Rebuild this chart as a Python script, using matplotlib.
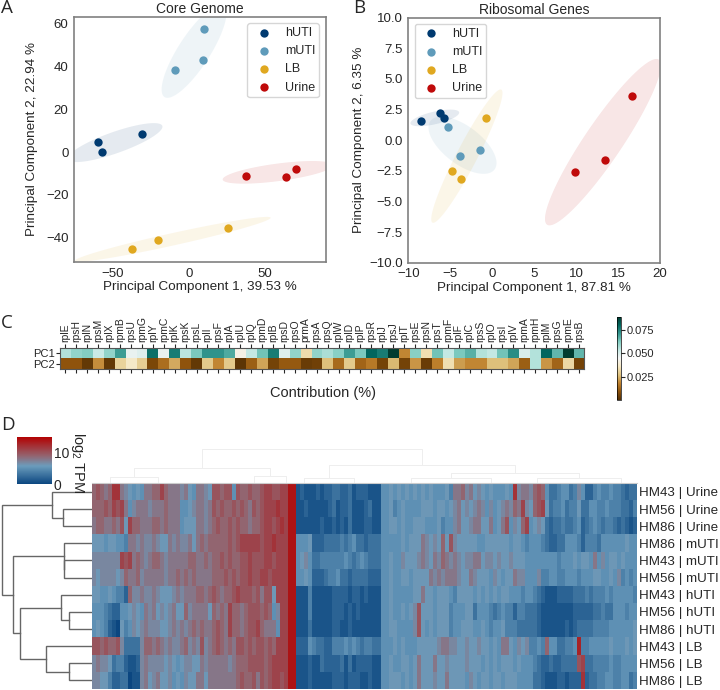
import matplotlib
matplotlib.use("Agg")
import matplotlib.pyplot as plt
from matplotlib.colors import LinearSegmentedColormap
from matplotlib.cm import ScalarMappable
from matplotlib.colors import Normalize
import numpy as np

plt.rcParams['font.family'] = ['Liberation Sans', 'DejaVu Sans']
plt.rcParams['mathtext.fontset'] = 'custom'
plt.rcParams['mathtext.rm'] = 'Liberation Sans'
plt.rcParams['text.color'] = '#262626'
plt.rcParams['xtick.color'] = '#262626'
plt.rcParams['ytick.color'] = '#262626'
plt.rcParams['axes.labelcolor'] = '#262626'

W, H = 720, 690

#pca points
groups = ['hUTI', 'mUTI', 'LB', 'Urine']
colors = ['#003a70', '#5f9bba', '#e0a820', '#bf0a0a']

core_x = [[-59.4, -57.0, -30.6], [10.0, 9.4, -9.0], [-36.9, -20.1, 25.5], [37.8, 63.8, 70.1]]
core_y = [[4.7, -0.2, 8.4], [57.7, 43.0, 38.5], [-45.5, -41.3, -35.5], [-11.1, -11.8, -7.8]]

ribo_x = [[-8.5, -6.2, -5.8], [-5.3, -3.8, -1.47], [-4.77, -3.74, -0.68], [9.83, 13.5, 16.65]]
ribo_y = [[1.55, 2.2, 1.8], [1.06, -1.33, -0.79], [-2.5, -3.2, 1.82], [-2.58, -1.6, 3.64]]

#ellipses: centre and two semi axes, data units
core_centre = [(-48.3, 4.4), (3.5, 47.1), (-10.5, -40.8), (58.5, -9.5)]
core_major = [(31.0, 7.8), (19.4, 21.4), (64.2, 10.1), (36.2, 3.4)]
core_minor = [(2.3, -4.7), (8.7, -4.05), (0.9, -2.8), (0.8, -4.05)]

ribo_centre = [(-6.84, 1.82), (-3.54, -0.41), (-3.02, -1.3), (13.2, -0.16)]
ribo_major = [(2.9, 0.46), (3.82, -1.98), (4.1, 5.43), (6.65, 6.74)]
ribo_minor = [(0.175, -0.5), (1.36, 1.24), (1.1, -0.38), (1.87, -0.84)]

#contribution
genes = ['rplE', 'rpsH', 'rplN', 'rpsM', 'rplX', 'rpmB', 'rpsU', 'rpmG', 'rplY', 'rpmC', 'rplK', 'rpsK',
         'rpsL', 'rplI', 'rpsF', 'rplA', 'rplU', 'rplQ', 'rpmD', 'rplB', 'rpsD', 'rpsO', 'prmA', 'rpsA',
         'rpsQ', 'rplW', 'rplD', 'rplP', 'rpsR', 'rplJ', 'rpsJ', 'rplT', 'rpsE', 'rpsN', 'rpsT', 'rpmF',
         'rplF', 'rplC', 'rpsS', 'rplO', 'rpsI', 'rplV', 'rpmA', 'rpmH', 'rplM', 'rpsG', 'rpmE', 'rpsB']
pc1 = [.056, .060, .062, .053, .060, .070, .047, .049, .078, .047, .076, .055,
       .063, .072, .072, .068, .042, .054, .064, .076, .049, .060, .033, .060,
       .057, .061, .070, .063, .080, .076, .089, .019, .061, .034, .064, .054,
       .063, .067, .056, .054, .064, .073, .050, .056, .080, .066, .089, .066]
pc2 = [.010, .010, .003, .020, .003, .031, .037, .030, .007, .015, .024, .010,
       .003, .029, .019, .029, .002, .012, .023, .006, .011, .011, .004, .005,
       .027, .014, .029, .013, .017, .006, .026, .006, .021, .004, .018, .034,
       .022, .019, .019, .027, .027, .023, .012, .056, .021, .013, .032, .006]

#expression, one hex digit = log2 TPM, read per 4 px column
samples = ['HM43 | Urine', 'HM56 | Urine', 'HM86 | Urine', 'HM86 | mUTI', 'HM43 | mUTI', 'HM56 | mUTI',
           'HM43 | hUTI', 'HM56 | hUTI', 'HM86 | hUTI', 'HM43 | LB', 'HM56 | LB', 'HM86 | LB']
tpm_rows = [
    '9a989cc876 5658899b98 8878658876 aa9aa5a99a 99abbaabbe e121112122 3322312221 1155656565 6565655564 8897867656 55565c7887 9a95334553 4752245445 443233',
    '999a9bab85 7888788898 8855678878 a9a99a9a98 a9abbbcbbe e112111112 3122311123 1155645655 5566656656 7867678757 5678798b76 9ab6344534 4633554454 443324',
    '8998898a6b 9988899898 8856668878 9a99a9a998 99abbabcbe e111111211 2121311122 1155665655 6665556455 7866788668 568a5769b5 6763233433 4523454344 323212',
    '6665665548 8787787668 7877868989 9999a9abbb bbabbcbbbe e555622233 3343453323 3355555656 668767696a 7666665566 6666566545 5543223355 5424443555 555655',
    '7777777bab 8987899878 8888998898 99a9a99aab aaabbabbbe e567533444 4445434543 3355655766 6787687987 8767788677 6766766655 5555554555 6566585756 656555',
    '7677776798 8978888878 8989898888 999a9a9aab aabbabbbbe e556522234 4533233332 2255655665 6666878788 8766876665 7656687755 5744554455 5455566556 574545',
    '6655654429 7787787666 7878889989 a9899abaaa 9a8aa6bbbe e111411111 2222122121 1155655555 6686656665 4666656565 6566555455 4321112222 3334344454 555554',
    '5554322556 7658786767 8669788886 9898b9989a aa9a957bbe e111411111 2221212111 1155655656 7a66656664 5556635554 3454424433 3211111111 2222233433 555455',
    '5654210645 7678777667 8787898988 9a98b9989a ab98885bbe e111311111 2211211111 1155665555 7a65656664 5566655654 5564443333 3211111121 2333344445 555556',
    'aa9a99a733 3379989878 7789787a78 9a9898aa9a 9aa9a9bbbe e222543322 4445454344 3355565655 5666667887 7667667665 6588657674 4549553344 5d44555556 555656',
    '7877634421 1278777767 6567766878 888878999a aaa9abbbbe e111211322 2231312222 1155655665 6866686676 6667666565 6566656555 4322322333 3ab3344445 445555',
    '7766422330 1178678667 5657668868 8888889a99 a8a9abbabe e111211111 2221222112 1155666565 6866676686 6665765665 6656665555 3321112212 22c2334455 445534',
]

#dendrograms: (height, left, right), leaves are row / column positions
row_tree = (90, (40, 0, (29, 1, 2)),
            (79, (28, 3, (28, 4, 5)),
             (72, (31, 6, (23, 7, 8)), (46, 9, (23, 10, 11)))))
col_tree = (34, (15, (6.5, 4, 16), (7, 40, 48)),
            (18, (5.5, 52.5, 65), (10, (5, 79, 99), (5, 110.5, 131.5))))


def box(l, t, r, b):
    return fig.add_axes([l / W, 1 - b / H, (r - l) / W, (b - t) / H])


def draw_tree(ax, node, horizontal, **kw):
    # returns leaf position and height of the node
    if not isinstance(node, tuple):
        return node, 0
    h, a, b = node
    pa, ha = draw_tree(ax, a, horizontal, **kw)
    pb, hb = draw_tree(ax, b, horizontal, **kw)
    hs = [ha, h, h, hb]
    ps = [pa, pa, pb, pb]
    if horizontal:
        ax.plot(hs, ps, **kw)
    else:
        ax.plot(ps, hs, **kw)
    return (pa + pb) / 2, h


def pca_panel(ax, xs, ys, centres, majors, minors, title, xlab, ylab, ylab_x):
    t = np.linspace(0, 2 * np.pi, 200)
    for i in range(4):
        c, u, v = centres[i], majors[i], minors[i]
        ax.fill(c[0] + u[0] * np.cos(t) + v[0] * np.sin(t), c[1] + u[1] * np.cos(t) + v[1] * np.sin(t),
                color=colors[i], alpha=0.1, linewidth=0, zorder=1)
        ax.scatter(xs[i], ys[i], s=36, color=colors[i], label=groups[i], zorder=3, linewidths=0)
    ax.set_title(title, fontsize=10, pad=3)
    ax.set_xlabel(xlab, fontsize=9.7, labelpad=1)
    ax.set_ylabel(ylab, fontsize=9.7)
    ax.yaxis.set_label_coords(ylab_x, 0.5)
    ax.tick_params(length=0, labelsize=9.5, pad=4)
    for s in ax.spines.values():
        s.set_color('#808080')
        s.set_linewidth(1.2)


fig = plt.figure(figsize=(W / 100, H / 100), dpi=100)

#A
ax_a = box(74, 17, 326, 262)
pca_panel(ax_a, core_x, core_y, core_centre, core_major, core_minor, 'Core Genome',
          'Principal Component 1, 39.53 %', 'Principal Component 2, 22.94 %', -0.143)
ax_a.set_xlim(-75.2, 90)
ax_a.set_ylim(-51.4, 63.1)
ax_a.set_xticks([-50, 0, 50])
ax_a.set_yticks([-40, -20, 0, 20, 40, 60])
ax_a.legend(loc='upper right', fontsize=9, labelspacing=0.5, handletextpad=0.7, borderpad=0.3,
            bbox_to_anchor=(0.972, 0.975), borderaxespad=0)

#B
ax_b = box(408.3, 17.7, 660, 262.7)
pca_panel(ax_b, ribo_x, ribo_y, ribo_centre, ribo_major, ribo_minor, 'Ribosomal Genes',
          'Principal Component 1, 87.81 %', 'Principal Component 2, 6.35 %', -0.172)
ax_b.set_xlim(-10, 20)
ax_b.set_ylim(-10, 10)
ax_b.set_yticks(np.arange(-10, 10.1, 2.5))
ax_b.legend(loc='upper left', fontsize=9, labelspacing=0.5, handletextpad=0.7, borderpad=0.3,
            bbox_to_anchor=(0.025, 0.975), borderaxespad=0)

#C
ax_c = box(60, 347.7, 584.3, 369.3)
im_c = ax_c.imshow([pc1, pc2], aspect='auto', cmap='BrBG', vmin=0.0005, vmax=0.089, interpolation='nearest')
ax_c.set_yticks([0, 1], ['PC1', 'PC2'], fontsize=8)
ax_c.set_xticks(range(len(genes)), genes, fontsize=7.5, rotation=90)
ax_c.tick_params(axis='x', top=True, labeltop=True, bottom=True, labelbottom=False, length=3, width=0.8, pad=1)
ax_c.tick_params(axis='y', length=3, width=0.8, pad=1)
for s in ax_c.spines.values():
    s.set_color('#555555')
    s.set_linewidth(0.8)
fig.text(323 / W, 1 - 393 / H, 'Contribution (%)', fontsize=10.5, ha='center', va='center')

cax_c = box(616.7, 316.7, 621, 400)
cb_c = fig.colorbar(im_c, cax=cax_c)
cb_c.set_ticks([0.025, 0.05, 0.075], labels=['0.025', '0.050', '0.075'])
cb_c.ax.tick_params(labelsize=8, length=3, width=0.8, pad=1)
cb_c.outline.set_linewidth(0.5)

#D
tpm_cmap = LinearSegmentedColormap.from_list('tpm', [(0, '#0b4680'), (0.38, '#6b9cbc'), (0.6, '#94636e'), (1, '#b30000')])
tpm = np.array([[int(c, 16) for c in row.replace(' ', '')] for row in tpm_rows])
ax_d = box(92.3, 483.3, 636.7, 689)
ax_d.imshow(tpm, aspect='auto', cmap=tpm_cmap, vmin=0, vmax=15.2, interpolation='nearest')
ax_d.yaxis.tick_right()
ax_d.set_yticks(range(len(samples)), samples, fontsize=9.6)
ax_d.set_xticks([])
ax_d.tick_params(axis='y', length=0, pad=1.5)
for s in ax_d.spines.values():
    s.set_visible(False)
ax_d.spines['top'].set_visible(True)
ax_d.spines['top'].set_color('#cccccc')

ax_rows = box(0, 483.3, 92.3, 689)
draw_tree(ax_rows, row_tree, True, color='#666666', lw=1.0, solid_joinstyle='miter')
ax_rows.set_xlim(92.3, 0)
ax_rows.set_ylim(11.5, -0.5)
ax_rows.axis('off')

ax_cols = box(92.3, 440, 636.7, 483.3)
draw_tree(ax_cols, col_tree, False, color='#eeeeee', lw=0.7)
ax_cols.set_xlim(-0.5, tpm.shape[1] - 0.5)
ax_cols.set_ylim(0, 43.3)
ax_cols.axis('off')

cax_d = box(16.7, 436.7, 52.3, 484)
cb_d = fig.colorbar(ScalarMappable(Normalize(0, 15.2), tpm_cmap), cax=cax_d)
cb_d.set_ticks([0, 10])
cb_d.ax.tick_params(labelsize=10, length=0, pad=1)
cb_d.outline.set_visible(False)
fig.text(78 / W, 1 - 432 / H, 'log$_2$ TPM', fontsize=10.5, rotation=270, ha='center', va='top')

#panel letters
for letter, x, y in [('A', 1, 8), ('B', 353, 8), ('C', 1, 323), ('D', 1, 425)]:
    fig.text(x / W, 1 - y / H, letter, fontsize=13.5, family='Open Sans', va='center', ha='left')

fig.savefig('out.png', dpi=100)
